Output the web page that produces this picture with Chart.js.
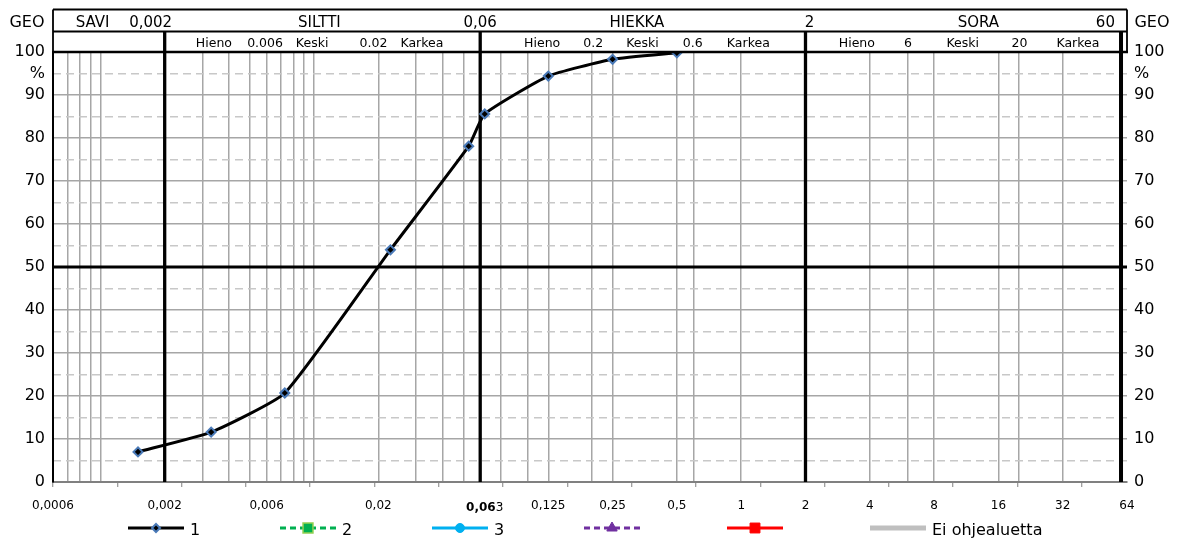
<!DOCTYPE html>
<html>
<head>
<meta charset="utf-8">
<script src="https://cdn.jsdelivr.net/npm/chart.js@4.4.1/dist/chart.umd.min.js"></script>
<style>
  html, body { margin: 0; padding: 0; background: #fff; }
</style>
</head>
<body>
<canvas id="grainChart" width="1177" height="538"></canvas>
<script>
// sample 1: grain size (mm) vs. passing (%)
const grainSize = [0.0015, 0.0033, 0.0073, 0.0228, 0.053, 0.063, 0.125, 0.25, 0.5];
const passing = [7.0, 11.6, 20.7, 54.0, 78.1, 85.6, 94.4, 98.3, 99.8];

// x axis labels (mm)
const xLabelValues = [0.0006, 0.002, 0.006, 0.02, 0.063, 0.125, 0.25, 0.5, 1, 2, 4, 8, 16, 32, 64];
const xLabelTexts = ['0,0006', '0,002', '0,006', '0,02', '0,063', '0,125', '0,25', '0,5', '1', '2', '4', '8', '16', '32', '64'];
// thin vertical grid lines
const xGridValues = [0.0007, 0.0008, 0.0009, 0.001, 0.003, 0.004, 0.005, 0.006, 0.007, 0.008, 0.009, 0.01,
  0.02, 0.03, 0.04, 0.05, 0.075, 0.1, 0.125, 0.2, 0.25, 0.5, 0.6, 1, 4, 6, 8, 16, 20, 32];
// GEO fraction limits (thick lines)
const xBoundaryValues = [0.002, 0.06, 2, 60];
// small tick marks under the axis
const xMarkValues = [0.0006, 0.0012, 0.0024, 0.0048, 0.0096, 0.0192, 0.0384, 0.0768, 0.1536, 0.3072,
  0.6144, 1.2288, 2.4576, 4.9152, 9.8304, 19.6608, 39.3216];

// y axis: labelled ticks and the dashed half steps
const yTickValues = [0, 10, 20, 30, 40, 50, 60, 70, 80, 90, 95, 100];
const yHalfValues = [5, 15, 25, 35, 45, 55, 65, 75, 85, 95];

// GEO header rows
const headerMain = ['SAVI', '0,002', 'SILTTI', '0,06', 'HIEKKA', '2', 'SORA', '60'];
const headerMainAt = [0.00092, 0.00172, 0.0106, 0.06, 0.325, 2.09, 12.9, 50.7];
const headerSub = ['Hieno', '0.006', 'Keski', '0.02', 'Karkea', 'Hieno', '0.2', 'Keski', '0.6', 'Karkea',
  'Hieno', '6', 'Keski', '20', 'Karkea'];
const headerSubAt = [0.0034, 0.0059, 0.0098, 0.019, 0.032, 0.117, 0.203, 0.345, 0.593, 1.08,
  3.48, 6.03, 10.9, 20.1, 37.7];

const FONT = "'DejaVu Sans', Verdana, sans-serif";

function near(v, list) {
  return list.some(a => Math.abs(Math.log(a / v)) < 1e-6);
}
function labelFor(v) {
  const i = xLabelValues.findIndex(a => Math.abs(Math.log(a / v)) < 1e-6);
  if (i < 0) return '';
  if (xLabelTexts[i] === '0,063') return ''; // drawn by plugin (bold part)
  return xLabelTexts[i];
}
const xTickValues = [...new Set([...xLabelValues, ...xGridValues, ...xMarkValues])].sort((a, b) => a - b);

function yLabel(v) {
  return v === 95 ? '%' : String(v);
}
function yGridColor(c) {
  const v = c.tick ? c.tick.value : 0;
  if (v === 0 || v === 95 || v === 100) return 'rgba(0,0,0,0)';
  return '#a6a6a6';
}

const geoPlugin = {
  id: 'geo',
  beforeDatasetsDraw(chart) {
    const { ctx, chartArea: a, scales: { x, y } } = chart;
    ctx.save();
    ctx.strokeStyle = '#000';
    // 50 % line
    const y50 = y.getPixelForValue(50);
    ctx.lineWidth = 3;
    ctx.beginPath();
    ctx.moveTo(a.left, y50);
    ctx.lineTo(a.right, y50);
    ctx.stroke();
    // fraction limits, from the second header row down
    xBoundaryValues.forEach(v => {
      const px = x.getPixelForValue(v);
      ctx.lineWidth = v === 60 ? 4 : 3.3;
      ctx.beginPath();
      ctx.moveTo(px, 31.5);
      ctx.lineTo(px, a.bottom);
      ctx.stroke();
    });
    ctx.restore();
  },
  afterDraw(chart) {
    const { ctx, chartArea: a, scales: { x } } = chart;
    ctx.save();
    // header box
    ctx.strokeStyle = '#000';
    ctx.lineWidth = 1.8;
    ctx.beginPath();
    ctx.moveTo(a.left, 9.5); ctx.lineTo(a.right, 9.5);
    ctx.moveTo(a.left, 31.5); ctx.lineTo(a.right, 31.5);
    ctx.moveTo(a.left, 9.5); ctx.lineTo(a.left, a.top);
    ctx.moveTo(a.right, 9.5); ctx.lineTo(a.right, a.top);
    ctx.stroke();
    ctx.lineWidth = 2.5;
    ctx.beginPath();
    ctx.moveTo(a.left - 1, a.top); ctx.lineTo(a.right + 1, a.top);
    ctx.stroke();

    ctx.fillStyle = '#000';
    ctx.textAlign = 'center';
    ctx.textBaseline = 'alphabetic';
    ctx.font = '15px ' + FONT;
    headerMain.forEach((t, i) => ctx.fillText(t, x.getPixelForValue(headerMainAt[i]), 27));
    ctx.font = '12.5px ' + FONT;
    headerSub.forEach((t, i) => ctx.fillText(t, x.getPixelForValue(headerSubAt[i]), 47));

    ctx.font = '16px ' + FONT;
    ctx.fillText('GEO', 27, 27);
    ctx.fillText('GEO', 1152, 27);

    // 0,063 label with bold "0,06"
    const px = x.getPixelForValue(0.063);
    ctx.font = 'bold 12px ' + FONT;
    const wb = ctx.measureText('0,06').width;
    ctx.font = '12px ' + FONT;
    const wn = ctx.measureText('3').width;
    const left = px - (wb + wn) / 2;
    ctx.textAlign = 'left';
    ctx.font = 'bold 12px ' + FONT;
    ctx.fillText('0,06', left, 511);
    ctx.font = '12px ' + FONT;
    ctx.fillText('3', left + wb, 511);

    // legend
    let lx = 128;
    const ly = 528;
    chart.data.datasets.forEach(ds => {
      ctx.save();
      ctx.strokeStyle = ds.borderColor;
      ctx.lineWidth = ds.borderWidth;
      ctx.setLineDash(ds.borderDash || []);
      ctx.beginPath();
      ctx.moveTo(lx, ly);
      ctx.lineTo(lx + 56, ly);
      ctx.stroke();
      ctx.setLineDash([]);
      if (ds.pointStyle) {
        ctx.fillStyle = ds.pointBackgroundColor;
        ctx.strokeStyle = ds.pointBorderColor;
        ctx.lineWidth = ds.pointBorderWidth;
        Chart.helpers.drawPoint(ctx, {
          pointStyle: ds.pointStyle, radius: ds.legendRadius, borderWidth: ds.pointBorderWidth, rotation: 0
        }, lx + 28, ly);
      }
      ctx.restore();
      if (ds.label) {
        ctx.font = '16px ' + FONT;
        ctx.fillStyle = '#000';
        ctx.fillText(ds.label, lx + 62, 535);
      }
      lx += ds.label ? 152 : 143;
    });
    ctx.restore();
  }
};

new Chart(document.getElementById('grainChart'), {
  type: 'line',
  data: {
    datasets: [
      {
        label: '1',
        data: grainSize.map((g, i) => ({ x: g, y: passing[i] })),
        borderColor: '#000',
        borderWidth: 3,
        tension: 0.15,
        pointStyle: 'rectRot',
        pointRadius: 4.5,
        legendRadius: 4,
        pointBackgroundColor: '#000',
        pointBorderColor: '#4a7ab8',
        pointBorderWidth: 2
      },
      { label: '2', data: [], borderColor: '#00b050', borderWidth: 3, borderDash: [6, 4],
        pointStyle: 'rect', legendRadius: 7, pointBackgroundColor: '#00b050', pointBorderColor: '#92d050', pointBorderWidth: 1.5 },
      { label: '3', data: [], borderColor: '#00b0f0', borderWidth: 3,
        pointStyle: 'circle', legendRadius: 4.5, pointBackgroundColor: '#00b0f0', pointBorderColor: '#00b0f0', pointBorderWidth: 1 },
      { label: '', data: [], borderColor: '#7030a0', borderWidth: 3, borderDash: [6, 4],
        pointStyle: 'triangle', legendRadius: 6, pointBackgroundColor: '#7030a0', pointBorderColor: '#7030a0', pointBorderWidth: 1 },
      { label: '', data: [], borderColor: '#ff0000', borderWidth: 3,
        pointStyle: 'rect', legendRadius: 7, pointBackgroundColor: '#ff0000', pointBorderColor: '#ff0000', pointBorderWidth: 1 },
      { label: 'Ei ohjealuetta', data: [], borderColor: '#bfbfbf', borderWidth: 5, pointStyle: false }
    ]
  },
  options: {
    responsive: false,
    animation: false,
    layout: { padding: { top: 52, left: 0, right: 0, bottom: 0 } },
    plugins: { legend: { display: false }, tooltip: { enabled: false } },
    scales: {
      x: {
        type: 'logarithmic',
        min: 0.0006,
        max: 64,
        afterBuildTicks: s => { s.ticks = xTickValues.map(v => ({ value: v })); },
        afterFit: s => { s.height = 56; },
        grid: {
          color: c => (c.tick && near(c.tick.value, xGridValues)) ? '#a6a6a6' : 'rgba(0,0,0,0)',
          lineWidth: 1.5,
          drawTicks: true,
          tickLength: 5,
          tickWidth: 1,
          tickColor: c => (c.tick && near(c.tick.value, xMarkValues)) ? '#808080' : 'rgba(0,0,0,0)'
        },
        border: { color: '#808080', width: 2 },
        ticks: {
          autoSkip: false,
          maxRotation: 0,
          padding: 12,
          color: '#000',
          font: { family: FONT, size: 12 },
          callback: v => labelFor(v)
        }
      },
      yHalf: {
        position: 'left',
        min: 0,
        max: 100,
        afterBuildTicks: s => { s.ticks = yHalfValues.map(v => ({ value: v })); },
        afterFit: s => { s.width = 0; },
        ticks: { display: false },
        grid: { color: '#c8c8c8', lineWidth: 1.5, drawTicks: false },
        border: { display: false, dash: [8, 5] }
      },
      y: {
        position: 'left',
        min: 0,
        max: 100,
        afterBuildTicks: s => { s.ticks = yTickValues.map(v => ({ value: v })); },
        afterFit: s => { s.width = 53; },
        ticks: { padding: 8, color: '#000', font: { family: FONT, size: 16 }, callback: v => yLabel(v) },
        grid: { drawTicks: false, lineWidth: 1.5, color: yGridColor },
        border: { color: '#000', width: 2 }
      },
      yRight: {
        position: 'right',
        min: 0,
        max: 100,
        afterBuildTicks: s => { s.ticks = yTickValues.map(v => ({ value: v })); },
        afterFit: s => { s.width = 50; },
        ticks: { padding: 7, color: '#000', font: { family: FONT, size: 16 }, callback: v => yLabel(v) },
        grid: { drawOnChartArea: false, drawTicks: false },
        border: { display: false }
      }
    }
  },
  plugins: [geoPlugin]
});
</script>
</body>
</html>
